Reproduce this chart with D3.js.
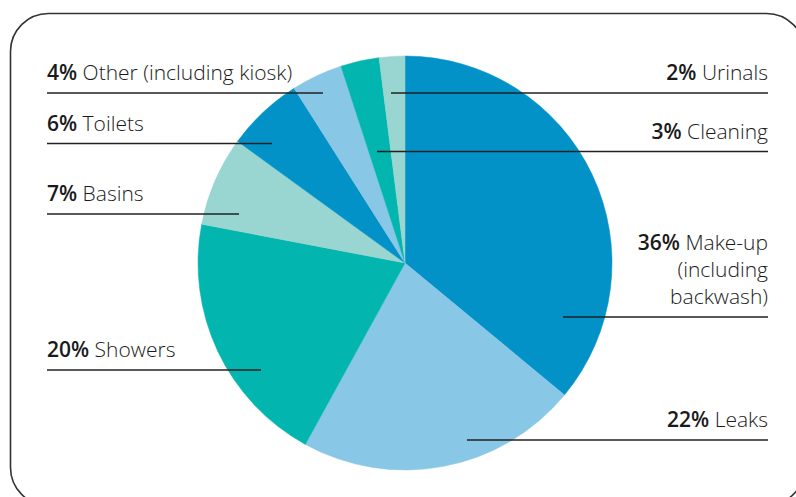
<!DOCTYPE html>
<html>
<head>
<meta charset="utf-8">
<script src="https://cdn.jsdelivr.net/npm/d3@7"></script>
<style>
  html, body { margin: 0; padding: 0; background: #fff; }
  svg { display: block; }
  text { font-family: "Open Sans", sans-serif; fill: #1a1a1a; }
</style>
</head>
<body>
<svg id="chart" width="796" height="497"></svg>
<script>
// ---- data ----
const categories = ["Make-up (including backwash)", "Leaks", "Showers", "Basins", "Toilets", "Other (including kiosk)", "Cleaning", "Urinals"];
const values = [36, 22, 20, 7, 6, 4, 3, 2];
const colors = ["#0392c8", "#88c7e5", "#02b5ae", "#99d5d1", "#0392c8", "#88c7e5", "#02b5ae", "#99d5d1"];
const labelLines = [["Make-up", "(including", "backwash)"], ["Leaks"], ["Showers"], ["Basins"], ["Toilets"], ["Other (including kiosk)"], ["Cleaning"], ["Urinals"]];

// ---- layout (annotation placement) ----
const labelLayout = [
  { side: "right", lineY: 317, innerX: 563 },
  { side: "right", lineY: 440, innerX: 467 },
  { side: "left",  lineY: 370, innerX: 261 },
  { side: "left",  lineY: 214, innerX: 239 },
  { side: "left",  lineY: 143.5, innerX: 272 },
  { side: "left",  lineY: 93, innerX: 323 },
  { side: "right", lineY: 151.5, innerX: 377 },
  { side: "right", lineY: 93, innerX: 391 }
];

const W = 796, H = 497;
const cx = 405, cy = 263, R = 207;
const leftX = 47, rightX = 768;

const svg = d3.select("#chart");

// frame
svg.append("rect")
  .attr("x", 10.5).attr("y", 13.5)
  .attr("width", 794).attr("height", 492)
  .attr("rx", 38).attr("ry", 38)
  .attr("fill", "none").attr("stroke", "#333").attr("stroke-width", 1.6);

const data = categories.map((c, i) => ({ name: c, value: values[i], color: colors[i], lines: labelLines[i], layout: labelLayout[i] }));

const pie = d3.pie().value(d => d.value).sort(null);
const arc = d3.arc().innerRadius(0).outerRadius(R);

const g = svg.append("g").attr("transform", `translate(${cx},${cy})`);
g.selectAll("path").data(pie(data)).join("path")
  .attr("d", arc)
  .attr("fill", d => d.data.color)
  .attr("stroke", d => d.data.color)
  .attr("stroke-width", 0.5);

// leader lines
svg.selectAll("line.leader").data(data).join("line")
  .attr("class", "leader")
  .attr("x1", d => d.layout.side === "left" ? leftX : d.layout.innerX)
  .attr("x2", d => d.layout.side === "left" ? d.layout.innerX : rightX)
  .attr("y1", d => d.layout.lineY)
  .attr("y2", d => d.layout.lineY)
  .attr("stroke", "#222").attr("stroke-width", 1.6);

// labels
const fs = 21, lh = 27;
data.forEach(d => {
  const n = d.lines.length;
  const anchor = d.layout.side === "left" ? "start" : "end";
  const x = d.layout.side === "left" ? leftX : rightX;
  const baseY = d.layout.lineY - 13 - (n - 1) * lh;
  d.lines.forEach((ln, j) => {
    const t = svg.append("text")
      .attr("x", x).attr("y", baseY + j * lh)
      .attr("text-anchor", anchor)
      .attr("font-size", fs);
    if (j === 0) {
      t.append("tspan").attr("font-weight", 600).text(d.value + "%");
      t.append("tspan").attr("font-weight", 300).text(" " + ln);
    } else {
      t.append("tspan").attr("font-weight", 300).text(ln);
    }
  });
});
</script>
</body>
</html>
